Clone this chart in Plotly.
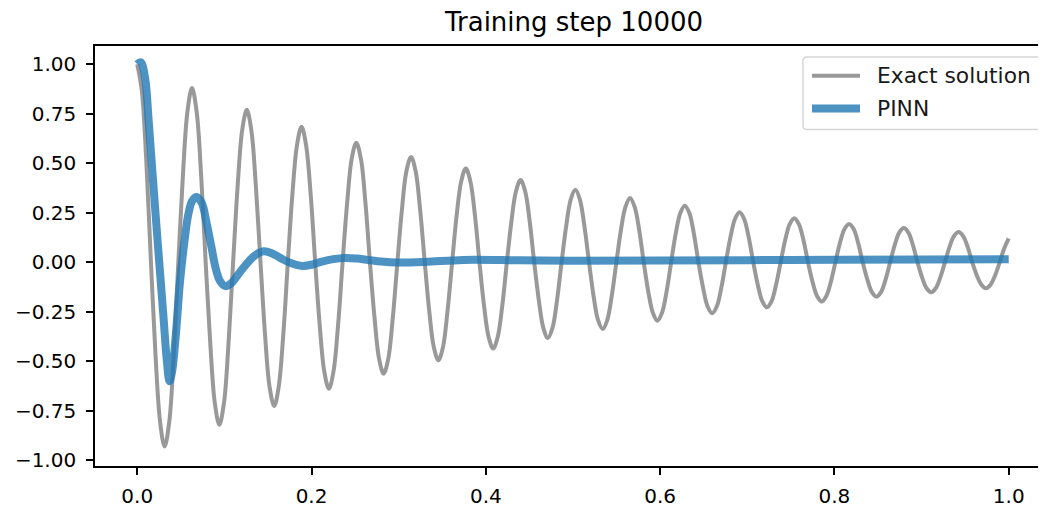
import plotly.graph_objects as go

# ---- data ----
# Exact solution, sampled every 1/12 of a period (t, u)
exact_t = [0.0000, 0.0052, 0.0105, 0.0157, 0.0209, 0.0262, 0.0314, 0.0367, 0.0419, 0.0471,
           0.0524, 0.0576, 0.0628, 0.0681, 0.0733, 0.0785, 0.0838, 0.0890, 0.0942, 0.0995,
           0.1047, 0.1100, 0.1152, 0.1204, 0.1257, 0.1309, 0.1361, 0.1414, 0.1466, 0.1518,
           0.1571, 0.1623, 0.1676, 0.1728, 0.1780, 0.1833, 0.1885, 0.1937, 0.1990, 0.2042,
           0.2094, 0.2147, 0.2199, 0.2251, 0.2304, 0.2356, 0.2409, 0.2461, 0.2513, 0.2566,
           0.2618, 0.2670, 0.2723, 0.2775, 0.2827, 0.2880, 0.2932, 0.2985, 0.3037, 0.3089,
           0.3142, 0.3194, 0.3246, 0.3299, 0.3351, 0.3403, 0.3456, 0.3508, 0.3560, 0.3613,
           0.3665, 0.3718, 0.3770, 0.3822, 0.3875, 0.3927, 0.3979, 0.4032, 0.4084, 0.4136,
           0.4189, 0.4241, 0.4294, 0.4346, 0.4398, 0.4451, 0.4503, 0.4555, 0.4608, 0.4660,
           0.4712, 0.4765, 0.4817, 0.4869, 0.4922, 0.4974, 0.5027, 0.5079, 0.5131, 0.5184,
           0.5236, 0.5288, 0.5341, 0.5393, 0.5445, 0.5498, 0.5550, 0.5603, 0.5655, 0.5707,
           0.5760, 0.5812, 0.5864, 0.5917, 0.5969, 0.6021, 0.6074, 0.6126, 0.6178, 0.6231,
           0.6283, 0.6336, 0.6388, 0.6440, 0.6493, 0.6545, 0.6597, 0.6650, 0.6702, 0.6754,
           0.6807, 0.6859, 0.6912, 0.6964, 0.7016, 0.7069, 0.7121, 0.7173, 0.7226, 0.7278,
           0.7330, 0.7383, 0.7435, 0.7487, 0.7540, 0.7592, 0.7645, 0.7697, 0.7749, 0.7802,
           0.7854, 0.7906, 0.7959, 0.8011, 0.8063, 0.8116, 0.8168, 0.8221, 0.8273, 0.8325,
           0.8378, 0.8430, 0.8482, 0.8535, 0.8587, 0.8639, 0.8692, 0.8744, 0.8796, 0.8849,
           0.8901, 0.8954, 0.9006, 0.9058, 0.9111, 0.9163, 0.9215, 0.9268, 0.9320, 0.9372,
           0.9425, 0.9477, 0.9530, 0.9582, 0.9634, 0.9687, 0.9739, 0.9791, 0.9844, 0.9896,
           0.9948, 1.0000]
exact_u = [1.000, 0.866, 0.500, 0.000, -0.465, -0.805,
           -0.930, -0.805, -0.465, 0.000, 0.440, 0.762,
           0.880, 0.762, 0.440, 0.000, -0.410, -0.710,
           -0.820, -0.710, -0.410, 0.000, 0.385, 0.667,
           0.770, 0.667, 0.385, 0.000, -0.363, -0.628,
           -0.725, -0.628, -0.363, 0.000, 0.342, 0.592,
           0.684, 0.592, 0.342, 0.000, -0.319, -0.553,
           -0.638, -0.553, -0.319, 0.000, 0.302, 0.523,
           0.604, 0.523, 0.302, 0.000, -0.281, -0.487,
           -0.562, -0.487, -0.281, 0.000, 0.266, 0.461,
           0.532, 0.461, 0.266, 0.000, -0.247, -0.428,
           -0.494, -0.428, -0.247, 0.000, 0.237, 0.410,
           0.474, 0.410, 0.237, 0.000, -0.218, -0.377,
           -0.435, -0.377, -0.218, 0.000, 0.208, 0.359,
           0.415, 0.359, 0.208, 0.000, -0.191, -0.331,
           -0.382, -0.331, -0.191, 0.000, 0.183, 0.317,
           0.366, 0.317, 0.183, 0.000, -0.169, -0.292,
           -0.337, -0.292, -0.169, 0.000, 0.163, 0.281,
           0.325, 0.281, 0.163, 0.000, -0.148, -0.255,
           -0.295, -0.255, -0.148, 0.000, 0.143, 0.248,
           0.286, 0.248, 0.143, 0.000, -0.129, -0.223,
           -0.257, -0.223, -0.129, 0.000, 0.127, 0.219,
           0.253, 0.219, 0.127, 0.000, -0.114, -0.197,
           -0.227, -0.197, -0.114, 0.000, 0.112, 0.193,
           0.223, 0.193, 0.112, 0.000, -0.099, -0.171,
           -0.198, -0.171, -0.099, 0.000, 0.097, 0.168,
           0.194, 0.168, 0.097, 0.000, -0.087, -0.150,
           -0.173, -0.150, -0.087, 0.000, 0.087, 0.150,
           0.173, 0.150, 0.087, 0.000, -0.076, -0.131,
           -0.151, -0.131, -0.076, 0.000, 0.077, 0.132,
           0.153, 0.132, 0.077, 0.000, -0.066, -0.113,
           -0.131, -0.113, -0.066, 0.000, 0.070, 0.121]

# PINN prediction (t, u)
pinn_t = [0.000, 0.004, 0.009, 0.013, 0.018, 0.024, 0.030, 0.034, 0.037, 0.040,
          0.044, 0.049, 0.054, 0.0585, 0.063, 0.068, 0.074, 0.0795, 0.085, 0.090,
          0.095, 0.101, 0.108, 0.116, 0.125, 0.135, 0.145, 0.155, 0.165, 0.177,
          0.189, 0.200, 0.212, 0.225, 0.238, 0.252, 0.265, 0.280, 0.298, 0.330,
          0.374, 0.440, 0.500, 0.600, 0.750, 0.900, 1.000]
pinn_u = [1.00, 1.01, 0.93, 0.72, 0.42, 0.07, -0.27, -0.50, -0.60, -0.55,
          -0.38, -0.10, 0.10, 0.24, 0.31, 0.33, 0.30, 0.20, 0.08, -0.03,
          -0.095, -0.12, -0.105, -0.06, -0.01, 0.035, 0.056, 0.045, 0.02, -0.005,
          -0.018, -0.012, 0.004, 0.016, 0.022, 0.019, 0.012, 0.004, -0.001, 0.002,
          0.012, 0.010, 0.008, 0.009, 0.012, 0.014, 0.016]

series_names = ["Exact solution", "PINN"]
series_colors = ["rgba(128,128,128,0.8)", "rgba(31,119,180,0.8)"]
series_widths = [4, 8]

x_ticks = [0.0, 0.2, 0.4, 0.6, 0.8, 1.0]
x_tick_labels = ["0.0", "0.2", "0.4", "0.6", "0.8", "1.0"]
y_ticks = [1.00, 0.75, 0.50, 0.25, 0.00, -0.25, -0.50, -0.75, -1.00]
y_tick_labels = ["1.00", "0.75", "0.50", "0.25", "0.00",
                 "\u22120.25", "\u22120.50", "\u22120.75", "\u22121.00"]

title_text = "Training step 10000"

FONT = "DejaVu Sans"

# figure geometry (page body adds an 8px offset)
W, H = 1038, 500
ML, MR, MT, MB = 87, 0, 38, 39
PW = W - ML - MR
PH = H - MT - MB


def px_x(fx):
    return (fx - ML) / PW


def px_y(fy):
    return (H - MB - fy) / PH


fig = go.Figure()
fig.add_trace(go.Scatter(
    x=exact_t, y=exact_u, mode="lines", name=series_names[0], showlegend=False,
    line=dict(color=series_colors[0], width=series_widths[0], shape="spline", smoothing=1.0),
))
fig.add_trace(go.Scatter(
    x=pinn_t, y=pinn_u, mode="lines", name=series_names[1], showlegend=False,
    line=dict(color=series_colors[1], width=series_widths[1], shape="spline", smoothing=1.0),
))

# ---- legend (drawn like matplotlib's) ----
bx0, bx1, by0, by1 = px_x(795), px_x(1033), px_y(122), px_y(49)
rx, ry = 4 / PW, 4 / PH
legend_path = (
    f"M {bx0 + rx},{by1} L {bx1 - rx},{by1} Q {bx1},{by1} {bx1},{by1 - ry} "
    f"L {bx1},{by0 + ry} Q {bx1},{by0} {bx1 - rx},{by0} "
    f"L {bx0 + rx},{by0} Q {bx0},{by0} {bx0},{by0 + ry} "
    f"L {bx0},{by1 - ry} Q {bx0},{by1} {bx0 + rx},{by1} Z"
)
shapes = [dict(type="path", xref="paper", yref="paper", path=legend_path,
               line=dict(color="#d6d6d6", width=1.5), fillcolor="white", layer="above")]
row_y = [68, 101]
annotations = []
for name, col, ry_px, hw in zip(series_names, series_colors, row_y, series_widths):
    shapes.append(dict(type="line", xref="paper", yref="paper",
                       x0=px_x(804), x1=px_x(852), y0=px_y(ry_px), y1=px_y(ry_px),
                       line=dict(color=col, width=hw), layer="above"))
    annotations.append(dict(text=name, xref="paper", yref="paper",
                            x=px_x(867), y=px_y(ry_px), xanchor="left", yanchor="middle",
                            showarrow=False,
                            font=dict(family=FONT, size=21.8, color="#1a1a1a")))

fig.update_layout(
    width=W, height=H,
    margin=dict(l=ML, r=MR, t=MT, b=MB),
    paper_bgcolor="white", plot_bgcolor="white",
    font=dict(family=FONT, size=20, color="black"),
    title=dict(text=title_text, x=px_x(566), xref="paper", xanchor="center",
               y=1 - 14 / H, yref="container", yanchor="middle",
               font=dict(family=FONT, size=26, color="black")),
    shapes=shapes,
    annotations=annotations,
    showlegend=False,
)
fig.update_xaxes(
    range=[-0.0485, 1.0428], tickvals=x_ticks, ticktext=x_tick_labels,
    showgrid=False, zeroline=False,
    showline=True, linecolor="black", linewidth=1.6, mirror=True,
    ticks="outside", ticklen=7, tickwidth=1.6, tickcolor="black",
    ticklabelstandoff=4,
    tickfont=dict(family=FONT, size=20, color="black"),
)
fig.update_yaxes(
    range=[-1.028, 1.092], tickvals=y_ticks, ticktext=y_tick_labels,
    showgrid=False, zeroline=False,
    showline=True, linecolor="black", linewidth=1.6, mirror=False,
    ticks="outside", ticklen=7, tickwidth=1.6, tickcolor="black",
    ticklabelstandoff=6,
    tickfont=dict(family=FONT, size=20, color="black"),
)

fig.write_html("out.html")
